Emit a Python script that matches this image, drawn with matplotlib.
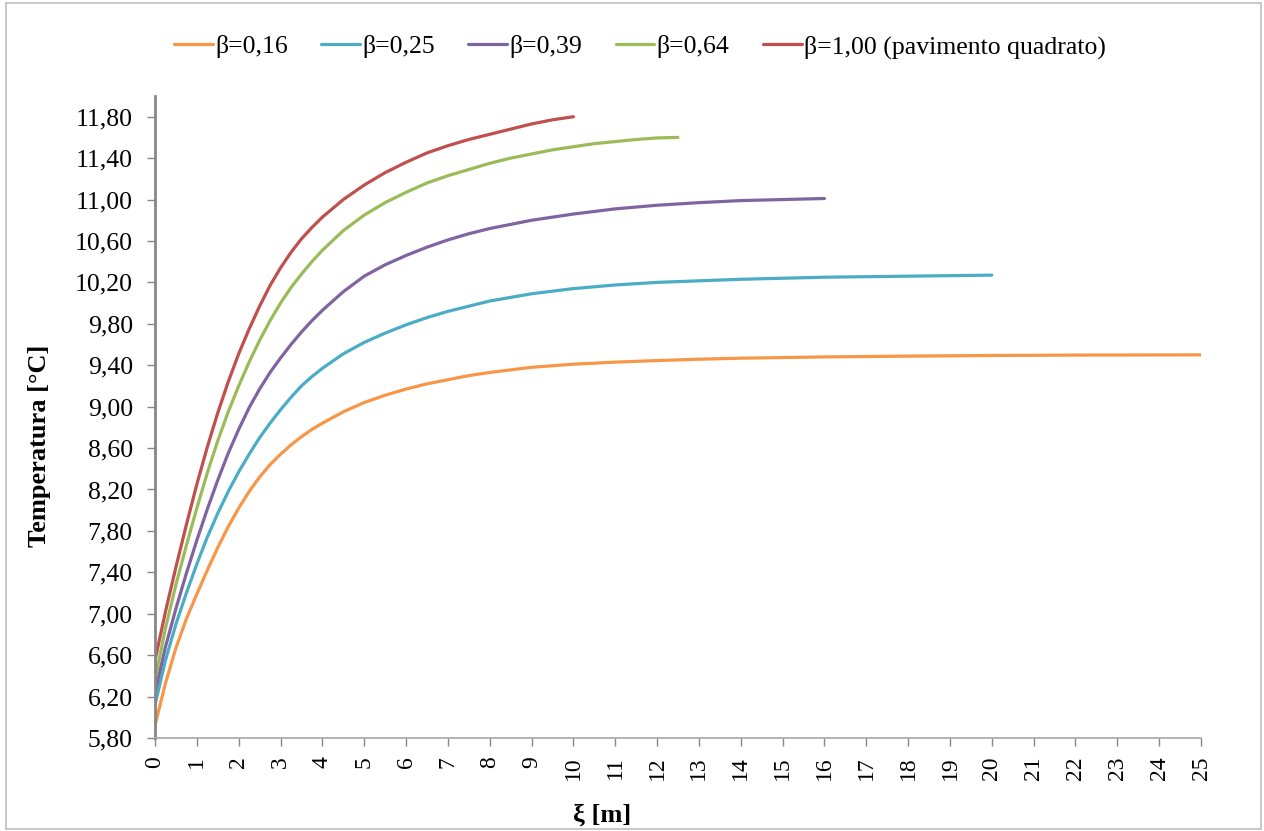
import matplotlib
matplotlib.use('Agg')
import matplotlib.pyplot as plt
from matplotlib.patches import Rectangle

plt.rcParams['font.family'] = ['Liberation Serif', 'DejaVu Serif']

# values
x_016 = [0, 0.25, 0.5, 0.75, 1, 1.25, 1.5, 1.75, 2, 2.25, 2.5, 2.75, 3, 3.25, 3.5, 3.75, 4,
         4.5, 5, 5.5, 6, 6.5, 7, 7.5, 8, 9, 10, 11, 12, 13, 14, 16, 18, 20, 22, 25]
t_016 = [5.92, 6.33, 6.67, 6.95, 7.19, 7.42, 7.64, 7.84, 8.02, 8.18, 8.32, 8.44, 8.54, 8.63, 8.71, 8.78, 8.84,
         8.95, 9.04, 9.11, 9.17, 9.22, 9.26, 9.30, 9.33, 9.38, 9.41, 9.43, 9.445, 9.458, 9.468, 9.48, 9.488,
         9.494, 9.498, 9.50]

x_025 = [0, 0.25, 0.5, 0.75, 1, 1.25, 1.5, 1.75, 2, 2.25, 2.5, 2.75, 3, 3.25, 3.5, 3.75, 4,
         4.5, 5, 5.5, 6, 6.5, 7, 7.5, 8, 9, 10, 11, 12, 13, 14, 16, 18, 20]
t_025 = [6.12, 6.55, 6.90, 7.20, 7.48, 7.74, 7.97, 8.18, 8.37, 8.54, 8.70, 8.84, 8.97, 9.09, 9.20, 9.29, 9.37,
         9.51, 9.62, 9.71, 9.79, 9.86, 9.92, 9.97, 10.02, 10.09, 10.14, 10.175, 10.20, 10.215, 10.23, 10.25,
         10.26, 10.27]

x_039 = [0, 0.25, 0.5, 0.75, 1, 1.25, 1.5, 1.75, 2, 2.25, 2.5, 2.75, 3, 3.25, 3.5, 3.75, 4,
         4.5, 5, 5.5, 6, 6.5, 7, 7.5, 8, 9, 10, 11, 12, 13, 14, 15, 16]
t_039 = [6.24, 6.68, 7.05, 7.39, 7.71, 8.01, 8.29, 8.55, 8.78, 8.99, 9.17, 9.33, 9.47, 9.60, 9.72, 9.83, 9.93,
         10.11, 10.26, 10.37, 10.46, 10.54, 10.61, 10.67, 10.72, 10.80, 10.86, 10.91, 10.945, 10.97, 10.99,
         11.00, 11.01]

x_064 = [0, 0.25, 0.5, 0.75, 1, 1.25, 1.5, 1.75, 2, 2.25, 2.5, 2.75, 3, 3.25, 3.5, 3.75, 4,
         4.5, 5, 5.5, 6, 6.5, 7, 7.5, 8, 8.5, 9, 9.5, 10, 10.5, 11, 11.5, 12, 12.5]
t_064 = [6.36, 6.86, 7.28, 7.66, 8.02, 8.36, 8.67, 8.95, 9.20, 9.43, 9.64, 9.83, 10.00, 10.15, 10.28, 10.40,
         10.51, 10.70, 10.85, 10.97, 11.07, 11.16, 11.23, 11.29, 11.35, 11.40, 11.44, 11.48, 11.51, 11.54,
         11.56, 11.58, 11.595, 11.60]

x_100 = [0, 0.25, 0.5, 0.75, 1, 1.25, 1.5, 1.75, 2, 2.25, 2.5, 2.75, 3, 3.25, 3.5, 3.75, 4,
         4.5, 5, 5.5, 6, 6.5, 7, 7.5, 8, 8.5, 9, 9.5, 10]
t_100 = [6.55, 7.02, 7.45, 7.86, 8.25, 8.61, 8.94, 9.24, 9.51, 9.75, 9.97, 10.17, 10.34, 10.49, 10.62, 10.73,
         10.83, 11.00, 11.14, 11.26, 11.36, 11.45, 11.52, 11.58, 11.63, 11.68, 11.73, 11.77, 11.80]

labels = ['β=0,16', 'β=0,25', 'β=0,39', 'β=0,64', 'β=1,00 (pavimento quadrato)']
colors = ['#F79646', '#4BACC6', '#8064A2', '#9BBB59', '#C0504D']
series = [(x_016, t_016), (x_025, t_025), (x_039, t_039), (x_064, t_064), (x_100, t_100)]

fig = plt.figure(figsize=(12.64, 8.31), dpi=100)
ax = fig.add_axes([155 / 1264, 1 - 738 / 831, (1201 - 155) / 1264, (738 - 96) / 831])

for (xs, ys), lab, col in zip(series, labels, colors):
    ax.plot(xs, ys, color=col, lw=2.3, label=lab, solid_capstyle='round', solid_joinstyle='round')

ax.set_xlim(0, 25)
ax.set_ylim(5.8, 12.0)
yt = [5.8 + 0.4 * i for i in range(16)]
ax.set_yticks(yt)
ax.set_yticklabels([f'{v:.2f}'.replace('.', ',') for v in yt], fontsize=18.5)
ax.set_xticks(range(26))
ax.set_xticklabels([str(i) for i in range(26)], fontsize=17, rotation=90)

for s in ['top', 'right']:
    ax.spines[s].set_visible(False)
ax.spines['left'].set_color('#868686')
ax.spines['left'].set_linewidth(2)
ax.spines['bottom'].set_color('#A6A6A6')
ax.spines['bottom'].set_linewidth(1.2)
ax.tick_params(axis='both', direction='out', color='#868686', length=6, width=1)
ax.tick_params(axis='y', pad=10)
ax.tick_params(axis='x', pad=7)

fig.text(40 / 1264, 1 - 446 / 831, 'Temperatura [°C]', rotation=90, fontsize=19,
         fontweight='bold', ha='center', va='center')
fig.text(602 / 1264, 1 - 815 / 831, 'ξ [m]', fontsize=19, fontweight='bold', ha='center', va='center')

fig.legend(loc='center', bbox_to_anchor=(640 / 1264, 1 - 47 / 831), ncol=5, frameon=False,
           fontsize=18.5, handlelength=1.5, handletextpad=0.1, columnspacing=1.3)

fig.patches.append(Rectangle((6 / 1264, 2 / 831), 1 - 9 / 1264, 1 - 5 / 831, transform=fig.transFigure,
                             fill=False, edgecolor='#BFBFBF', lw=1.2))

fig.savefig('out.png', dpi=100, facecolor='white')
